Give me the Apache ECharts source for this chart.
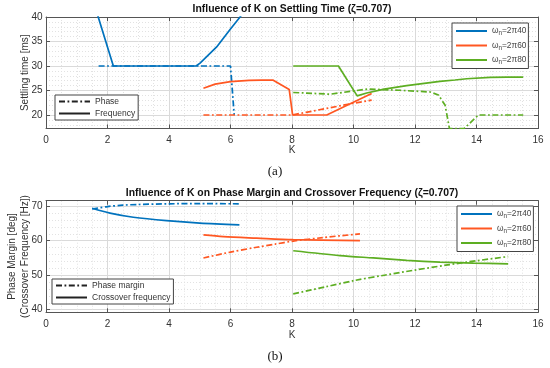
<!DOCTYPE html>
<html><head><meta charset="utf-8">
<script src="https://cdn.jsdelivr.net/npm/echarts@6/dist/echarts.min.js"></script>
<style>html,body{margin:0;padding:0;background:#fff}#c{width:550px;height:368px}</style>
</head><body><div id="c"></div>
<script>
// ---------- data: (a) settling time ----------
const kA_b40_freq = [1.6, 2.19, 4.88, 5.01, 5.55, 5.98, 6.31, 6.45];
const st_b40_freq = [42, 30, 30, 30.6, 33.9, 37.4, 40, 41.2];
const kA_b40_phase = [1.71, 6.0, 6.12];
const st_b40_phase = [30, 30, 20];
const kA_o60_freq = [5.12, 5.5, 6.0, 6.6, 7.0, 7.39, 7.91, 8.02, 9.13, 10.59];
const st_o60_freq = [25.45, 26.3, 26.8, 27.05, 27.12, 27.1, 25.2, 20, 20, 24.4];
const kA_o60_phase = [5.12, 8.0, 8.5, 9.0, 9.5, 10.0, 10.59];
const st_o60_phase = [20, 20, 20.6, 21.2, 21.8, 22.4, 23.05];
const kA_g80_freq = [8.04, 9.51, 10.12, 10.43, 11.0, 11.73, 12.3, 12.81, 13.3, 13.68, 14.44, 15.0, 15.52];
const st_g80_freq = [30, 30, 23.9, 24.5, 25.3, 26.0, 26.45, 26.85, 27.15, 27.4, 27.7, 27.75, 27.75];
const kA_g80_phase = [8.04, 9.24, 10.1, 10.45, 11.5, 12.5, 12.76, 12.98, 13.12, 13.6, 14.06, 15.52];
const st_g80_phase = [24.6, 24.25, 25.0, 25.3, 25.05, 24.7, 24.1, 22.0, 17.25, 17.25, 20, 20];

// ---------- data: (b) phase margin / crossover ----------
const kB_b40_pm = [1.5, 2.0, 2.5, 3.0, 4.0, 5.0, 6.3];
const pm_b40 = [69.2, 69.9, 70.3, 70.5, 70.7, 70.75, 70.7];
const kB_b40_cf = [1.5, 2.08, 2.84, 3.92, 5.0, 6.29];
const cf_b40 = [69.4, 68.0, 66.8, 65.8, 65.1, 64.6];
const kB_o60_pm = [5.12, 6.0, 6.85, 7.45, 8.04, 9.0, 10.21];
const pm_o60 = [55.0, 56.7, 58.1, 59.0, 59.9, 60.9, 62.0];
const kB_o60_cf = [5.12, 5.77, 6.85, 8.04, 10.21];
const cf_o60 = [61.7, 61.2, 60.75, 60.3, 60.05];
const kB_g80_pm = [8.04, 9.07, 10.05, 11.0, 12.0, 13.0, 14.0, 15.03];
const pm_g80 = [44.6, 46.6, 48.5, 50.0, 51.5, 52.9, 54.2, 55.4];
const kB_g80_cf = [8.04, 9.56, 10.64, 11.73, 12.81, 13.9, 15.03];
const cf_g80 = [57.1, 55.7, 55.0, 54.3, 53.8, 53.5, 53.3];

// ---------- labels ----------
const omegaValues = ['40', '60', '80'];
const titleA = 'Influence of K on Settling Time (\u03b6=0.707)';
const titleB = 'Influence of K on Phase Margin and Crossover Frequency (\u03b6=0.707)';
const styleNamesA = ['Phase', 'Frequency'];
const styleNamesB = ['Phase margin', 'Crossover frequency'];

const C = ['#0072BD', '#FF5722', '#5DAE22'];
const DASHDOT = [6, 2.5, 1.8, 2.5];
const FONT = 'Liberation Sans';
const zip = (xs, ys) => xs.map((x, i) => [x, ys[i]]);

function line(name, xi, yi, data, color, dash) {
  return { type: 'line', name, xAxisIndex: xi, yAxisIndex: yi, data, symbol: 'none', showSymbol: false,
    clip: true, silent: true, animation: false,
    lineStyle: { color, width: 1.7, type: dash ? DASHDOT : 'solid' }, itemStyle: { color } };
}

const GRIDS = [
  { left: 46, right: 12, top: 17, height: 111.5, outerBoundsMode: 'none', containLabel: false },
  { left: 46, right: 12, top: 200.7, height: 111.6, outerBoundsMode: 'none', containLabel: false }
];
const axisCol = '#555';
function xMain(g, gap) {
  return { gridIndex: g, type: 'value', min: 0, max: 16, interval: 2, position: 'bottom',
    name: 'K', nameLocation: 'middle', nameGap: gap, nameMoveOverlap: false,
    nameTextStyle: { fontFamily: FONT, fontSize: 10, color: '#333' },
    axisLine: { show: true, lineStyle: { color: axisCol, width: 1 } },
    axisTick: { show: true, inside: true, length: 4, lineStyle: { color: axisCol } },
    axisLabel: { fontFamily: FONT, fontSize: 10, color: '#333', margin: 7 },
    splitLine: { show: true, lineStyle: { color: '#dadada', width: 1 } },
    minorTick: { show: false, splitNumber: 4 },
    minorSplitLine: { show: true, lineStyle: { color: '#e2e2e2', width: 1, type: [1, 2] } } };
}
function xTop(g) {
  return { gridIndex: g, type: 'value', min: 0, max: 16, interval: 2, position: 'top',
    axisLine: { show: true, lineStyle: { color: axisCol, width: 1 } },
    axisTick: { show: true, inside: true, length: 4, lineStyle: { color: axisCol } },
    axisLabel: { show: false }, splitLine: { show: false } };
}
function yMinor(g, min, max, sn) {
  return { gridIndex: g, type: 'value', min, max, splitNumber: sn, position: 'left',
    axisLine: { show: false }, axisTick: { show: false }, axisLabel: { show: false },
    splitLine: { show: true, lineStyle: { color: '#e2e2e2', width: 1, type: [1, 2] } } };
}
function yMain(g, min, max, sn, name, gap, showMax) {
  return { gridIndex: g, type: 'value', min, max, splitNumber: sn, position: 'left',
    name, nameLocation: 'middle', nameRotate: 90, nameGap: gap, nameMoveOverlap: false,
    nameTextStyle: { fontFamily: FONT, fontSize: 10, color: '#333', lineHeight: 12.5 },
    axisLine: { show: true, lineStyle: { color: axisCol, width: 1 } },
    axisTick: { show: true, inside: true, length: 4, lineStyle: { color: axisCol } },
    axisLabel: { fontFamily: FONT, fontSize: 10, color: '#333', margin: 3.5, showMinLabel: false, showMaxLabel: showMax },
    splitLine: { show: true, lineStyle: { color: '#dadada', width: 1 } } };
}
function yRight(g, min, max, sn) {
  return { gridIndex: g, type: 'value', min, max, splitNumber: sn, position: 'right',
    axisLine: { show: true, lineStyle: { color: axisCol, width: 1 } },
    axisTick: { show: true, inside: true, length: 4, lineStyle: { color: axisCol } },
    axisLabel: { show: false }, splitLine: { show: false } };
}

const omegaName = v => 'w' + v;
const omegaFmt = name => '{g|\u03c9}{s|n}{g|=2\u03c0' + name.slice(1) + '}';
const omegaRich = {
  g: { fontFamily: FONT, fontSize: 8.3, color: '#444' },
  s: { fontFamily: FONT, fontSize: 6.3, color: '#444', padding: [5, 0, 0, 0] }
};
const hiddenSymbol = { color: 'rgba(0,0,0,0)', borderColor: 'rgba(0,0,0,0)', borderWidth: 0, opacity: 0 };
function omegaLegend(left, top) {
  return { show: true, orient: 'vertical', left, top, itemWidth: 31, itemHeight: 10, itemGap: 5,
    padding: [4, 2, 3, 3], borderColor: '#444', borderWidth: 1, backgroundColor: '#fff',
    itemStyle: hiddenSymbol,
    data: omegaValues.map(omegaName), formatter: omegaFmt, selectedMode: false,
    textStyle: { fontFamily: FONT, fontSize: 8.3, color: '#444', rich: omegaRich } };
}
function styleLegend(left, top, names) {
  return { show: true, orient: 'vertical', left, top, itemWidth: 31, itemHeight: 8, itemGap: 3,
    padding: [2, 3, 2, 3], borderColor: '#444', borderWidth: 1, backgroundColor: '#fff',
    itemStyle: hiddenSymbol,
    data: names, selectedMode: false,
    textStyle: { fontFamily: FONT, fontSize: 8.5, color: '#333' } };
}

const series = [
  line('a_b40_phase', 0, 1, zip(kA_b40_phase, st_b40_phase), C[0], true),
  line('a_b40_freq', 0, 1, zip(kA_b40_freq, st_b40_freq), C[0], false),
  line('a_o60_phase', 0, 1, zip(kA_o60_phase, st_o60_phase), C[1], true),
  line('a_o60_freq', 0, 1, zip(kA_o60_freq, st_o60_freq), C[1], false),
  line('a_g80_phase', 0, 1, zip(kA_g80_phase, st_g80_phase), C[2], true),
  line('a_g80_freq', 0, 1, zip(kA_g80_freq, st_g80_freq), C[2], false),
  Object.assign(line('b_b40_pm', 2, 4, zip(kB_b40_pm, pm_b40), C[0], true), { smooth: 0.3 }),
  Object.assign(line('b_b40_cf', 2, 4, zip(kB_b40_cf, cf_b40), C[0], false), { smooth: 0.3 }),
  Object.assign(line('b_o60_pm', 2, 4, zip(kB_o60_pm, pm_o60), C[1], true), { smooth: 0.3 }),
  Object.assign(line('b_o60_cf', 2, 4, zip(kB_o60_cf, cf_o60), C[1], false), { smooth: 0.3 }),
  Object.assign(line('b_g80_pm', 2, 4, zip(kB_g80_pm, pm_g80), C[2], true), { smooth: 0.3 }),
  Object.assign(line('b_g80_cf', 2, 4, zip(kB_g80_cf, cf_g80), C[2], false), { smooth: 0.3 }),
  // legend-only entries
  line(styleNamesA[0], 0, 1, [], '#222', true),
  line(styleNamesA[1], 0, 1, [], '#222', false),
  line(styleNamesB[0], 2, 4, [], '#222', true),
  line(styleNamesB[1], 2, 4, [], '#222', false),
  line(omegaName(omegaValues[0]), 0, 1, [], C[0], false),
  line(omegaName(omegaValues[1]), 0, 1, [], C[1], false),
  line(omegaName(omegaValues[2]), 0, 1, [], C[2], false)
];

const chart = echarts.init(document.getElementById('c'), null, { renderer: 'canvas' });
chart.setOption({
  animation: false,
  backgroundColor: '#fff',
  title: [
    { text: titleA, left: 292, top: 4, padding: 0, textAlign: 'center', textStyle: { fontFamily: FONT, fontSize: 10.4, fontWeight: 'bold', color: '#111' } },
    { text: titleB, left: 292, top: 188, padding: 0, textAlign: 'center', textStyle: { fontFamily: FONT, fontSize: 10.4, fontWeight: 'bold', color: '#111' } },
    { text: '(a)', left: 275, top: 165, padding: 0, textAlign: 'center', textStyle: { fontFamily: 'Liberation Serif', fontSize: 13, fontWeight: 'normal', color: '#111' } },
    { text: '(b)', left: 275, top: 350, padding: 0, textAlign: 'center', textStyle: { fontFamily: 'Liberation Serif', fontSize: 13, fontWeight: 'normal', color: '#111' } }
  ],
  grid: GRIDS,
  xAxis: [xMain(0, 17), xTop(0), xMain(1, 18), xTop(1)],
  yAxis: [
    yMinor(0, 17.25, 40, 20), yMain(0, 17.25, 40, 5, 'Settling time [ms]', 15, true), yRight(0, 17.25, 40, 5),
    yMinor(1, 39.25, 71.6, 16), yMain(1, 39.25, 71.6, 3, 'Phase Margin [deg]\n(Crossover Frequency [Hz])', 15, false), yRight(1, 39.25, 71.6, 3)
  ],
  legend: [
    styleLegend(55, 95, styleNamesA),
    omegaLegend(452, 23),
    styleLegend(52, 279, styleNamesB),
    omegaLegend(457, 206)
  ],
  series
});
</script></body></html>
